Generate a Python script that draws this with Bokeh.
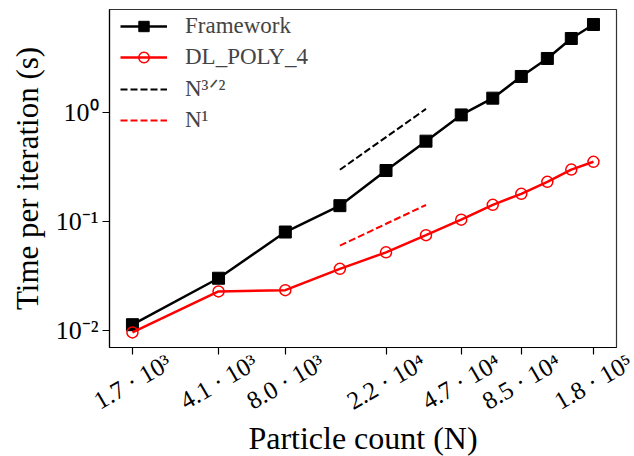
import math
from bokeh.plotting import figure
from bokeh.models import FixedTicker, Legend, LegendItem, Range1d
from bokeh.embed import file_html
from bokeh.resources import INLINE

# ---- data ----
particles = [1728, 4096, 8000, 13824, 21952, 32768, 46656, 64000, 85184, 110592, 140608, 175616]
framework = [0.0112, 0.030, 0.080, 0.140, 0.295, 0.55, 0.96, 1.37, 2.17, 3.18, 4.86, 6.54]
dlpoly = [0.0095, 0.0227, 0.0233, 0.0366, 0.052, 0.0748, 0.104, 0.1425, 0.18, 0.232, 0.301, 0.355]

ref_x = [13824, 32768]
ref_n32 = [0.30, 1.09]
ref_n1 = [0.060, 0.142]

x_ticks = [1728, 4096, 8000, 21952, 46656, 85184, 175616]
x_tick_labels = ["1.7 · 10³", "4.1 · 10³", "8.0 · 10³", "2.2 · 10⁴", "4.7 · 10⁴", "8.5 · 10⁴", "1.8 · 10⁵"]
y_ticks = [0.01, 0.1, 1]
y_tick_labels = ["10⁻²", "10⁻¹", "10⁰"]
x_title = "Particle count (N)"
y_title = "Time per iteration (s)"

FONT = "Liberation Serif"

X0, X1 = 1373, 2.212e5
FW, FH = 507, 338
BL, BR, BT = 109, 18, 9

p = figure(title=None, x_axis_type="log", y_axis_type="log",
           x_range=Range1d(X0, X1), y_range=(0.0069, 8.99),
           frame_width=FW, frame_height=FH,
           min_border_left=BL, min_border_right=BR, min_border_top=BT, min_border_bottom=8,
           output_backend="svg", toolbar_location=None)

p.grid.visible = False
p.outline_line_color = "#333333"
p.outline_line_width = 1.2
p.background_fill_color = "white"
p.border_fill_color = "white"

# lines
fw_line = p.line(particles, framework, line_color="black", line_width=2.5)
fw_pts = p.scatter(particles, framework, marker="square", size=12, fill_color="black", line_color="black")
dl_line = p.line(particles, dlpoly, line_color="red", line_width=2.5)
dl_pts = p.scatter(particles, dlpoly, marker="circle", size=11, fill_color=None, line_color="red", line_width=1.5)
r32 = p.line(ref_x, ref_n32, line_color="black", line_width=2, line_dash="7 3")
r1 = p.line(ref_x, ref_n1, line_color="red", line_width=2, line_dash="7 3")

# axes
for ax in (p.xaxis[0], p.yaxis[0]):
    ax.axis_line_color = "black"
    ax.axis_line_width = 1.2
    ax.major_tick_line_color = "black"
    ax.major_tick_line_width = 1.2
    ax.major_tick_out = 7
    ax.major_tick_in = 0
    ax.minor_tick_line_color = None
    ax.axis_label_text_font = FONT
    ax.axis_label_text_font_style = "normal"
    ax.axis_label_text_color = "black"
    ax.major_label_text_font = FONT
    ax.major_label_text_color = "black"

p.yaxis.ticker = FixedTicker(ticks=y_ticks)
p.yaxis.major_label_overrides = dict(zip(y_ticks, y_tick_labels))
p.yaxis.major_label_text_font_size = "26px"
p.yaxis.major_label_standoff = 4
p.yaxis.axis_label = y_title
p.yaxis.axis_label_text_font_size = "31px"
p.yaxis.axis_label_standoff = 8

p.xaxis.ticker = FixedTicker(ticks=x_ticks)
p.xaxis.major_label_overrides = {t: "" for t in x_ticks}
p.xaxis.major_label_text_font_size = "0px"
p.xaxis.major_label_standoff = 0

legend = Legend(items=[
    LegendItem(label="Framework", renderers=[fw_line, fw_pts]),
    LegendItem(label="DL_POLY_4", renderers=[dl_line, dl_pts]),
    LegendItem(label="N³ᐟ²", renderers=[r32]),
    LegendItem(label="N¹", renderers=[r1]),
], location=(11, 214))
legend.glyph_width = 47
legend.glyph_height = 26
legend.label_height = 26
legend.spacing = 5
legend.padding = 0
legend.margin = 0
legend.label_standoff = 18
legend.label_text_font = FONT
legend.label_text_font_size = "23px"
legend.border_line_color = None
legend.background_fill_alpha = 0
p.add_layout(legend)

# ---- strip below the plot (full width, same log scale): rotated x tick labels + x title ----
lx0, lx1 = math.log10(X0), math.log10(X1)
ppd = FW / (lx1 - lx0)
strip_range = Range1d(10 ** (lx0 - BL / ppd), 10 ** (lx1 + BR / ppd))
strip_h = 101
p2 = figure(title=None, x_axis_type="log", x_range=strip_range, y_range=(0, strip_h),
            frame_width=BL + FW + BR, frame_height=strip_h,
            x_axis_location=None, y_axis_location=None,
            min_border_left=0, min_border_right=0, min_border_top=0, min_border_bottom=0,
            output_backend="svg", toolbar_location=None)
p2.grid.visible = False
p2.outline_line_color = None
p2.background_fill_color = "white"
p2.border_fill_color = "white"
p2.text(x=x_ticks, y=[strip_h - 26] * len(x_ticks), text=x_tick_labels,
        angle=math.radians(30), text_align="center", text_baseline="middle",
        text_font=FONT, text_font_size="25px", text_color="black")
p2.text(x=[math.sqrt(X0 * X1)], y=[19], text=[x_title],
        text_align="center", text_baseline="alphabetic",
        text_font=FONT, text_font_size="32px", text_color="black")

open("out.html", "w").write(file_html([p, p2], INLINE))
